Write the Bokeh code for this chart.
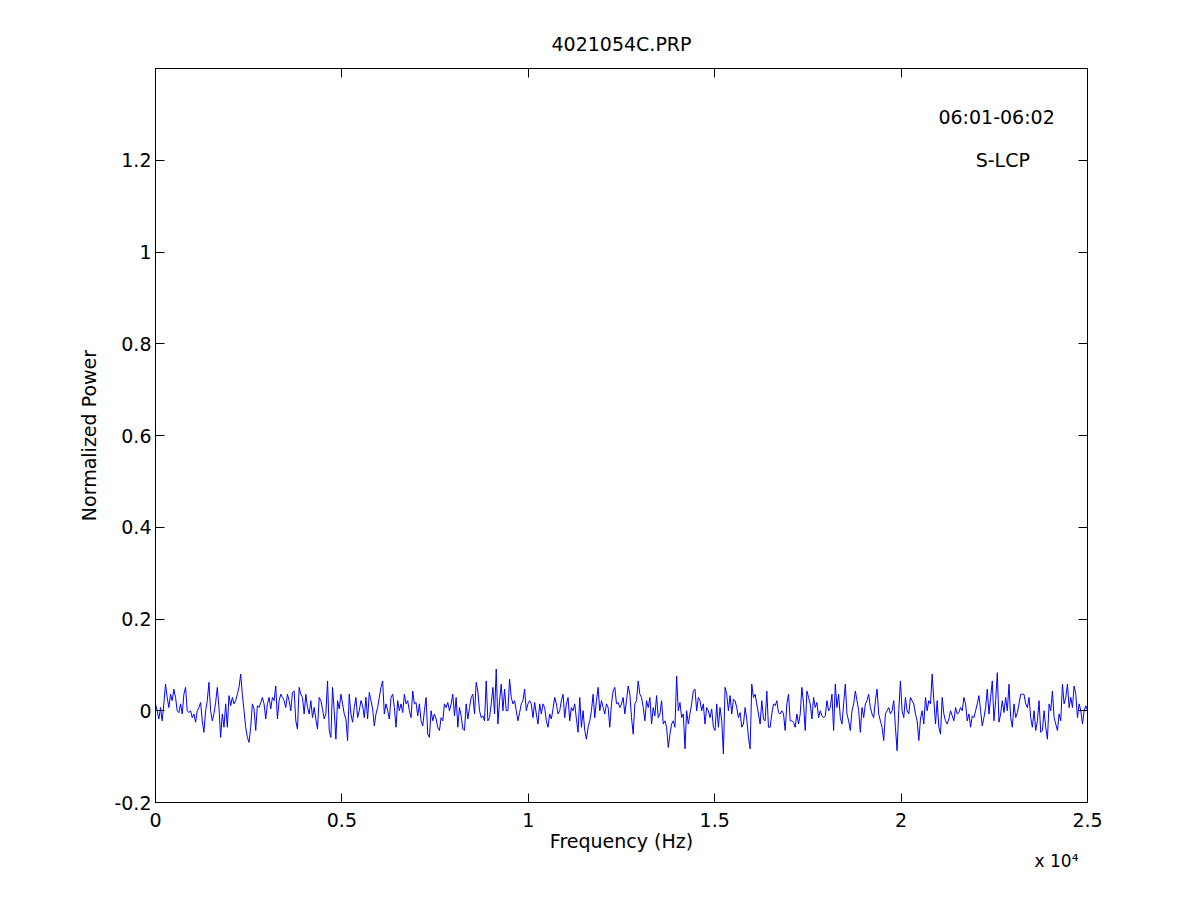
import numpy as np
from bokeh.plotting import figure
from bokeh.models import Range1d, LinearAxis, FixedTicker, Label, Title
from bokeh.embed import file_html
from bokeh.resources import INLINE

# ---- data (normalized power vs frequency) ----
power_a = [0.015, 0, -0.018, 0.007, -0.022, 0.015, 0.058, 0.029, 0.007, 0.036,
           0.022, 0.047, 0.029, 0, -0.004, 0.015, -0.007, 0.036, 0.051, 0,
           -0.004, 0, -0.015, -0.007, -0.025, 0, 0.007, 0.018, -0.022, -0.047,
           0, 0.022, 0.062, 0, -0.022, -0.007, 0.018, 0.051, 0.007, -0.058,
           -0.007, -0.036, 0.015, -0.036, 0.033, 0.011, 0.029, 0.015, 0.022, 0.036,
           0.051, 0.080, 0.036, 0, -0.036, -0.058, -0.069, -0.036, 0.015, 0.004,
           -0.043, 0.011, 0.007, 0.018, 0.029, 0.015, -0.018, 0.015, 0.029, 0.004,
           0.029, 0.022, 0.054, -0.018, 0.022, 0.036, 0.029, 0.022, 0.007, 0.036,
           0.022, 0, 0.040, 0.043, -0.022, -0.040, 0.051, 0.036, 0.029, -0.007,
           0.036, 0.007, -0.007]
power_b = [0.022, -0.015, 0.007, -0.018, -0.040, 0.029, 0.022, 0.004, -0.018, -0.007,
           0.065, -0.043, -0.058, 0.051, 0, -0.062, 0.022, 0.004, 0.036, 0.015,
           -0.007, -0.018, -0.065, 0.036, -0.007, -0.025, 0.007, 0.029, -0.015, 0,
           0.022, 0.011, -0.015, 0.029, -0.018, 0.040, 0.022, 0.004, -0.033, -0.007,
           0.007, 0.029, 0.051, 0.065, -0.007, 0.015, 0, -0.018, 0.029, 0.036,
           0.007, -0.036, 0.022, 0, 0.015, -0.004, 0.036, 0.015, 0.022, 0,
           -0.015, 0.043, 0.015, 0.018, -0.011, 0.015, -0.022, -0.033, 0, 0.029,
           -0.051, -0.058, 0, -0.022, -0.007, -0.018, -0.036, -0.043, -0.015, -0.022,
           0.015, 0.007, 0.018, 0, 0.015, 0.036, -0.011, 0.029, -0.036, 0.007,
           -0.011, -0.040, -0.043]
power_c = [0.015, -0.018, 0.007, 0.029, 0.036, -0.007, 0.062, 0.043, 0, -0.015,
           -0.011, -0.022, 0.065, -0.022, -0.015, 0.015, 0.051, -0.007, 0.091, -0.029,
           0.022, 0.058, 0, 0.047, 0, 0, 0.069, 0.029, 0.015, 0.022,
           0, -0.022, -0.004, 0.015, 0.022, 0.047, 0, 0.015, 0.022, 0.015,
           -0.015, 0.018, -0.007, -0.029, 0.015, -0.007, 0.015, 0.007, -0.022, -0.036,
           -0.007, -0.018, 0.004, 0.029, 0.015, -0.007, 0, 0.022, 0.036, -0.015,
           0.015, 0.029, -0.022, 0.007, 0, 0.015, -0.018, -0.047, 0.029, -0.036,
           0, -0.043, -0.062, -0.036, -0.022, 0, 0.036, -0.015, 0.022, 0.051,
           0, 0.022, 0.007, -0.007, 0.015, 0.007, -0.036, 0.015, 0.043, 0.051,
           0.015, 0.018, 0.007]
power_d = [0.015, 0.029, -0.007, 0.022, 0.054, 0.036, -0.015, -0.051, 0.015, 0.022,
           0.065, 0.036, 0.029, 0.007, -0.022, 0.022, 0.007, 0.029, -0.029, 0.007,
           -0.011, 0.033, -0.015, -0.007, 0.022, -0.029, -0.022, -0.036, -0.080, -0.051,
           -0.029, -0.022, -0.036, 0.076, 0, 0.018, -0.015, -0.007, -0.083, 0,
           -0.029, -0.007, 0.015, 0.043, 0.047, 0, 0.029, 0.022, 0, 0.015,
           -0.029, 0.007, 0, -0.015, 0.004, -0.036, -0.043, 0.015, -0.036, 0.007,
           -0.022, -0.094, 0.051, 0.036, 0, 0.033, -0.007, 0.025, 0.022, 0.007,
           -0.015, -0.004, -0.036, -0.029, 0.007, -0.018, -0.058, -0.083, 0.058, 0.029,
           0.036, 0.015, -0.007, -0.029, 0.022, -0.018, -0.022, 0.043, -0.036, -0.036,
           -0.007, 0.015, 0.011]
power_e = [0.022, -0.004, -0.007, 0, -0.007, -0.043, 0.015, 0.036, -0.022, -0.022,
           -0.025, -0.036, -0.007, -0.029, -0.007, 0.051, 0.015, -0.043, 0.043, 0.029,
           0.015, -0.018, 0.029, 0.007, 0.018, -0.015, 0, -0.011, -0.015, -0.011,
           0.022, 0, 0.007, 0.036, -0.043, 0.058, 0.007, 0.036, -0.015, -0.029,
           0.015, 0.058, -0.007, -0.022, -0.043, 0, 0.015, 0.043, 0.022, 0,
           -0.047, 0.007, -0.015, 0.015, 0.022, 0.036, 0.007, -0.007, -0.015, 0.022,
           0.047, -0.007, -0.022, -0.036, -0.065, -0.007, 0, 0.007, -0.007, 0,
           0.022, -0.036, -0.087, 0, 0.065, 0, -0.015, 0.029, 0, -0.007,
           0.029, 0.022, 0.015, -0.007, -0.022, -0.065, -0.018, 0, -0.029, 0.029,
           0, 0.022, 0.015]
power_f = [0.080, 0.022, -0.029, 0.022, -0.036, -0.051, 0.029, -0.007, -0.022, -0.029,
           -0.018, 0, -0.011, -0.022, 0.007, -0.007, -0.004, 0.007, 0, 0.029,
           0.015, -0.022, -0.007, -0.036, -0.011, -0.015, 0, 0.015, 0.033, 0,
           -0.033, -0.015, 0.007, 0.047, -0.007, 0.029, 0.065, -0.022, 0.022, 0.083,
           -0.025, -0.007, 0.022, -0.004, 0.029, 0, 0.058, -0.015, -0.036, 0.015,
           -0.015, -0.004, 0.015, 0.036, 0.036, 0.036, 0.015, 0.007, 0.029, -0.015,
           -0.036, 0, -0.043, -0.022, 0.022, -0.047, -0.043, 0, -0.036, -0.062,
           0.015, 0, 0.043, -0.015, -0.029, -0.043, -0.007, -0.022, 0.058, 0.015,
           0.029, 0.058, 0.007, 0.029, 0.007, 0.054, 0.036, -0.015, 0.015, 0,
           -0.029, 0, 0.011, 0]

power = power_a + power_b + power_c + power_d + power_e + power_f
freq = np.linspace(0, 25000, len(power))  # uniform frequency grid of the spectrum

x_ticks = [0, 5000, 10000, 15000, 20000, 25000]
x_tick_labels = ["0", "0.5", "1", "1.5", "2", "2.5"]
y_ticks = [-0.2, 0.0, 0.2, 0.4, 0.6, 0.8, 1.0, 1.2]
y_tick_labels = ["-0.2", "0", "0.2", "0.4", "0.6", "0.8", "1", "1.2"]

title_text = "4021054C.PRP"
time_text = "06:01-06:02"
pol_text = "S-LCP"
x_label = "Frequency (Hz)"
y_label = "Normalized Power"
x_scale_text = "x 10\u2074"

FONT = "DejaVu Sans"
FS = "19px"

p = figure(width=1185, height=885, output_backend="svg", toolbar_location=None,
           x_range=Range1d(0, 25000), y_range=Range1d(-0.2, 1.4),
           x_axis_label=x_label, y_axis_label=y_label)
p.min_border_left = 155
p.min_border_right = 98
p.min_border_top = 68
p.min_border_bottom = 83
p.background_fill_color = "white"
p.border_fill_color = "white"
p.grid.visible = False
p.outline_line_color = "black"
p.outline_line_width = 1

p.title.text = title_text
p.title.align = "center"
p.title.text_font = FONT
p.title.text_font_size = FS
p.title.text_font_style = "normal"
p.title.text_color = "black"
p.title.standoff = 27

p.line(freq, power, color="#0000ff", line_width=1)


def style_axis(ax, ticks, labels, show):
    ax.ticker = FixedTicker(ticks=ticks)
    if show:
        ax.major_label_overrides = {t: l for t, l in zip(ticks, labels)}
        ax.major_label_text_font_size = FS
    else:
        ax.major_label_overrides = {t: "" for t in ticks}
        ax.major_label_text_font_size = "0px"
        ax.major_label_standoff = 0
    ax.major_tick_in = 9
    ax.major_tick_out = 0
    ax.minor_tick_line_color = None
    ax.axis_line_color = "black"
    ax.major_tick_line_color = "black"
    ax.major_label_text_font = FONT
    ax.major_label_text_color = "black"
    ax.axis_label_text_font = FONT
    ax.axis_label_text_font_size = FS
    ax.axis_label_text_font_style = "normal"
    ax.axis_label_text_color = "black"


style_axis(p.xaxis[0], x_ticks, x_tick_labels, True)
style_axis(p.yaxis[0], y_ticks, y_tick_labels, True)
p.xaxis[0].major_label_standoff = 10
p.xaxis[0].axis_label_standoff = 0
p.yaxis[0].major_label_standoff = 4
p.yaxis[0].axis_label_standoff = 11

top_ax = LinearAxis()
right_ax = LinearAxis()
style_axis(top_ax, x_ticks, x_tick_labels, False)
style_axis(right_ax, y_ticks, y_tick_labels, False)
p.add_layout(top_ax, "above")
p.add_layout(right_ax, "right")

scale_title = Title(text=x_scale_text, align="right", text_font=FONT,
                    text_font_size="17px", text_font_style="normal",
                    text_color="black", standoff=-11, offset=9)
p.add_layout(scale_title, "below")


def add_label(x, y, text, size=FS, align="left"):
    p.add_layout(Label(x=x, y=y, text=text, text_font=FONT, text_font_size=size,
                       text_color="black", text_align=align, text_baseline="middle"))


add_label(21000, 1.295, time_text)
add_label(22000, 1.2, pol_text)

open("out.html", "w").write(file_html(p, INLINE))
